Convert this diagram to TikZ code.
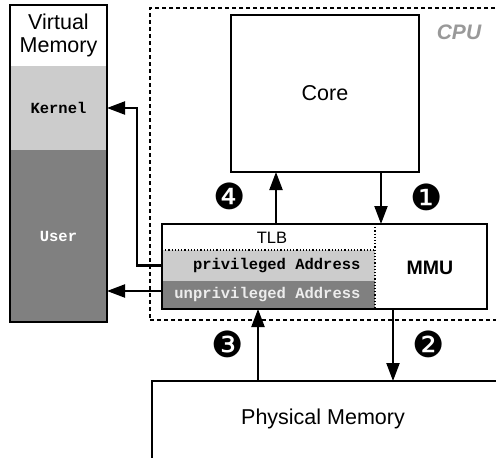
\documentclass[tikz,border=0pt]{standalone}
\usepackage{fontspec}
\setmainfont{Liberation Sans}
\setmonofont{Liberation Mono}
\newfontfamily\dingfont{DejaVu Sans}
\usetikzlibrary{arrows.meta,calc}
\definecolor{lg}{HTML}{CCCCCC}
\definecolor{dg}{HTML}{808080}
\definecolor{cpugray}{HTML}{999999}
\tikzset{
  region/.style={inner sep=0pt,outer sep=0pt,anchor=north west},
  arr/.style={line width=2.2pt,-{Triangle[length=18pt,width=13pt]}},
  num/.style={font=\dingfont\fontsize{36}{36}\selectfont},
  bigtext/.style={font=\fontsize{21.5}{23}\selectfont},
  monotext/.style={font=\ttfamily\bfseries\fontsize{15.5}{18}\selectfont},
}
\begin{document}
\begin{tikzpicture}[x=1pt,y=-1pt]
\useasboundingbox (0,0) rectangle (496,458);
\clip (0,0) rectangle (496,458);

% CPU dashed region
\node[region, draw, dash pattern=on 4pt off 3pt, line width=1.3pt,
      minimum width=370pt, minimum height=312pt] (cpu) at (150,8) {};
\node[font=\bfseries\itshape\fontsize{21}{21}\selectfont, text=cpugray] (cpulbl) at (459,32) {CPU};

% Virtual memory
\node[region, fill=white, minimum width=97pt, minimum height=61pt, align=center, bigtext] (vmtitle) at (10,5) {Virtual\\Memory};
\node[region, fill=lg, minimum width=97pt, minimum height=84pt, monotext] (kernel) at (10,66) {Kernel};
\node[region, fill=dg, minimum width=97pt, minimum height=172pt, monotext, text=white] (user) at (10,150) {User};
\draw[line width=1.5pt] (vmtitle.north west) rectangle (user.south east);

% Core
\node[region, draw, line width=1.5pt, minimum width=188pt, minimum height=157pt, bigtext] (core) at (231,15) {Core};

% MMU / TLB
\node[region, fill=white, minimum width=213pt, minimum height=26pt] (tlb) at (162,224) {};
\node[region, fill=lg, minimum width=213pt, minimum height=31pt] (priv) at (162,250) {};
\node[region, fill=dg, minimum width=213pt, minimum height=28pt] (unpriv) at (162,281) {};
\node[font=\fontsize{16.5}{18}\selectfont] (tlblbl) at (272,238) {TLB};
\node[monotext, anchor=east] (privlbl) at (364,266) {privileged Address};
\node[monotext, anchor=east, text=white!93!black] (unprivlbl) at (364,295) {unprivileged Address};
\draw[dotted, line width=1.2pt] (priv.north west) -- (priv.north east);
\draw[dotted, line width=1.2pt] (tlb.north east) -- (unpriv.south east);
\node[region, draw, line width=1.8pt, minimum width=325pt, minimum height=85pt] (mmu) at (162,224) {};
\node[font=\bfseries\fontsize{19.5}{20}\selectfont] (mmulbl) at (430,268) {MMU};

% Physical memory
\node[region, draw, line width=1.5pt, minimum width=370pt, minimum height=110pt] (pm) at (152,381) {};
\node[bigtext] (pmlbl) at (323,419) {Physical Memory};

% Arrows
\coordinate (xa) at (276,0);
\coordinate (xb) at (381,0);
\coordinate (xc) at (258,0);
\coordinate (xd) at (393,0);
\draw[arr] (xa |- mmu.north) -- (xa |- core.south);
\draw[arr] (xb |- core.south) -- (xb |- mmu.north);
\draw[arr] (xc |- pm.north) -- (xc |- mmu.south);
\draw[arr] (xd |- mmu.south) -- (xd |- pm.north);
\draw[arr] (priv.west) -- ++(-25,0) |- (kernel.east);
\draw[arr] ([yshift=4pt]unpriv.west) coordinate (u0) -- (u0 -| user.east);

% Step numbers
\node[num] (n4) at (230,196) {❹};
\node[num] (n1) at (427,197) {❶};
\node[num] (n3) at (228,344) {❸};
\node[num] (n2) at (429,344) {❷};
\end{tikzpicture}
\end{document}
